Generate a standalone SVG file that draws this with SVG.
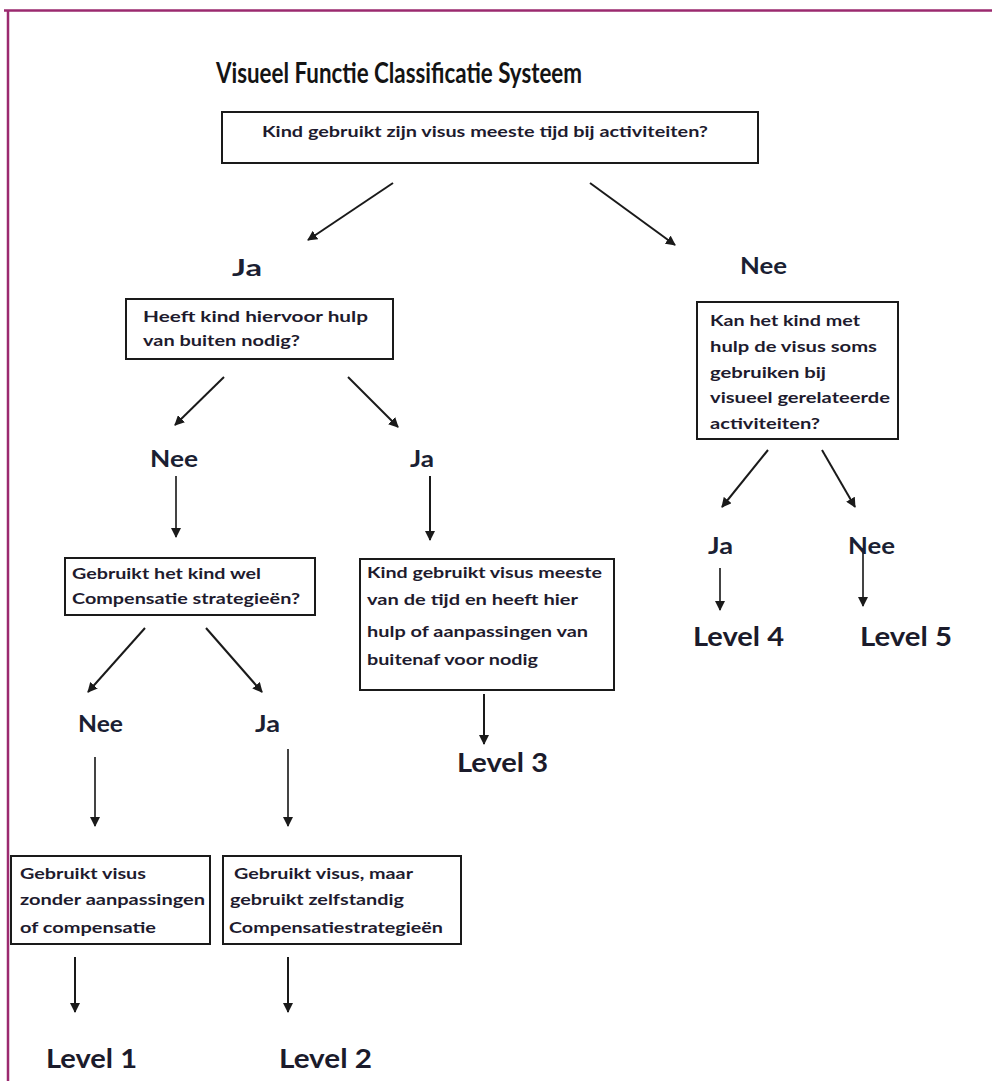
<svg xmlns="http://www.w3.org/2000/svg" width="992" height="1081" viewBox="0 0 992 1081">
<defs>
<marker id="ah" viewBox="0 0 10 10" refX="9" refY="5" markerWidth="5" markerHeight="5" orient="auto" markerUnits="strokeWidth">
<path d="M0,0 L10,5 L0,10 Z" fill="#1a1a1a"/>
</marker>
<style>
.bg{fill:#ffffff}
.frame{stroke:#9b2a6f;stroke-width:2.5;fill:none}
.box{fill:#ffffff;stroke:#1a1a1a;stroke-width:2}
.bt{font-family:Lato,"Open Sans","Liberation Sans",sans-serif;font-weight:bold;font-size:15px;fill:#1e1b2e}
.lab{font-family:Lato,"Open Sans","Liberation Sans",sans-serif;font-weight:bold;font-size:23px;fill:#1b1f33}
.lvl{font-family:Lato,"Open Sans","Liberation Sans",sans-serif;font-weight:bold;font-size:27px;fill:#1b1b2b}
.title{font-family:Lato,"Open Sans","Liberation Sans",sans-serif;font-weight:bold;font-size:28px;fill:#141414}
.con{stroke:#1a1a1a;stroke-width:2;fill:none;marker-end:url(#ah)}
.con2{stroke:#444444;stroke-width:2;fill:none;marker-end:url(#ah)}
</style>
</defs>
<rect class="bg" x="0" y="0" width="992" height="1081"/>
<path class="frame" d="M4,10.5 H992 M8,10 V1081"/>
<text class="title" x="216" y="83" textLength="366" lengthAdjust="spacingAndGlyphs">Visueel Functie Classificatie Systeem</text>

<g id="connectors">
<line class="con" x1="393" y1="183" x2="308" y2="240"/>
<line class="con" x1="590" y1="183" x2="675" y2="245"/>
<line class="con" x1="224" y1="377" x2="175" y2="425"/>
<line class="con" x1="348" y1="377" x2="398" y2="427"/>
<line class="con2" x1="176" y1="476" x2="176" y2="537"/>
<line class="con" x1="430" y1="476" x2="430" y2="540"/>
<line class="con" x1="145" y1="628" x2="88" y2="692"/>
<line class="con" x1="206" y1="628" x2="262" y2="692"/>
<line class="con2" x1="95" y1="757" x2="95" y2="826"/>
<line class="con2" x1="288" y1="749" x2="288" y2="826"/>
<line class="con" x1="484" y1="694" x2="484" y2="744"/>
<line class="con" x1="75" y1="957" x2="75" y2="1012"/>
<line class="con" x1="288" y1="957" x2="288" y2="1012"/>
<line class="con" x1="768" y1="450" x2="722" y2="507"/>
<line class="con" x1="822" y1="450" x2="855" y2="507"/>
<line class="con2" x1="720" y1="568" x2="720" y2="610"/>
<line class="con2" x1="863" y1="548" x2="863" y2="606"/>
</g>

<g id="q1">
<rect class="box" x="222" y="112" width="536" height="51"/>
<text class="bt" x="262" y="137" textLength="446" lengthAdjust="spacingAndGlyphs">Kind gebruikt zijn visus meeste tijd bij activiteiten?</text>
</g>
<g id="ja1"><text class="lab" x="232" y="276" textLength="30" lengthAdjust="spacingAndGlyphs">Ja</text></g>
<g id="nee1"><text class="lab" x="740" y="274" textLength="47" lengthAdjust="spacingAndGlyphs">Nee</text></g>

<g id="q2">
<rect class="box" x="126" y="299" width="267" height="60"/>
<text class="bt" x="143" y="322" textLength="225" lengthAdjust="spacingAndGlyphs">Heeft kind hiervoor hulp</text>
<text class="bt" x="143" y="346" textLength="157" lengthAdjust="spacingAndGlyphs">van buiten nodig?</text>
</g>
<g id="nee2"><text class="lab" x="150" y="467" textLength="48" lengthAdjust="spacingAndGlyphs">Nee</text></g>
<g id="ja2"><text class="lab" x="410" y="467" textLength="24" lengthAdjust="spacingAndGlyphs">Ja</text></g>

<g id="q3">
<rect class="box" x="65" y="558" width="250" height="57"/>
<text class="bt" x="72" y="579" textLength="189" lengthAdjust="spacingAndGlyphs">Gebruikt het kind wel</text>
<text class="bt" x="72" y="604" textLength="228" lengthAdjust="spacingAndGlyphs">Compensatie strategieën?</text>
</g>

<g id="r3box">
<rect class="box" x="360" y="559" width="254" height="131"/>
<text class="bt" x="367" y="578" textLength="235" lengthAdjust="spacingAndGlyphs">Kind gebruikt visus meeste</text>
<text class="bt" x="367" y="605" textLength="211" lengthAdjust="spacingAndGlyphs">van de tijd en heeft hier</text>
<text class="bt" x="367" y="637" textLength="221" lengthAdjust="spacingAndGlyphs">hulp of aanpassingen van</text>
<text class="bt" x="367" y="665" textLength="171" lengthAdjust="spacingAndGlyphs">buitenaf voor nodig</text>
</g>
<g id="level3"><text class="lvl" x="457" y="772" textLength="91" lengthAdjust="spacingAndGlyphs">Level 3</text></g>

<g id="nee3"><text class="lab" x="78" y="732" textLength="45" lengthAdjust="spacingAndGlyphs">Nee</text></g>
<g id="ja3"><text class="lab" x="255" y="732" textLength="25" lengthAdjust="spacingAndGlyphs">Ja</text></g>

<g id="r1box">
<rect class="box" x="11" y="856" width="199" height="88"/>
<text class="bt" x="20" y="879" textLength="126" lengthAdjust="spacingAndGlyphs">Gebruikt visus</text>
<text class="bt" x="20" y="905" textLength="185" lengthAdjust="spacingAndGlyphs">zonder aanpassingen</text>
<text class="bt" x="20" y="933" textLength="136" lengthAdjust="spacingAndGlyphs">of compensatie</text>
</g>
<g id="r2box">
<rect class="box" x="223" y="856" width="238" height="88"/>
<text class="bt" x="234" y="879" textLength="179" lengthAdjust="spacingAndGlyphs">Gebruikt visus, maar</text>
<text class="bt" x="230" y="905" textLength="174" lengthAdjust="spacingAndGlyphs">gebruikt zelfstandig</text>
<text class="bt" x="229" y="933" textLength="214" lengthAdjust="spacingAndGlyphs">Compensatiestrategieën</text>
</g>
<g id="level1"><text class="lvl" x="46" y="1068" textLength="91" lengthAdjust="spacingAndGlyphs">Level 1</text></g>
<g id="level2"><text class="lvl" x="279" y="1068" textLength="93" lengthAdjust="spacingAndGlyphs">Level 2</text></g>

<g id="q4">
<rect class="box" x="697" y="302" width="201" height="137"/>
<text class="bt" x="710" y="326" textLength="150" lengthAdjust="spacingAndGlyphs">Kan het kind met</text>
<text class="bt" x="710" y="352" textLength="167" lengthAdjust="spacingAndGlyphs">hulp de visus soms</text>
<text class="bt" x="710" y="378" textLength="116" lengthAdjust="spacingAndGlyphs">gebruiken bij</text>
<text class="bt" x="710" y="403" textLength="180" lengthAdjust="spacingAndGlyphs">visueel gerelateerde</text>
<text class="bt" x="710" y="429" textLength="110" lengthAdjust="spacingAndGlyphs">activiteiten?</text>
</g>
<g id="ja4"><text class="lab" x="708" y="554" textLength="25" lengthAdjust="spacingAndGlyphs">Ja</text></g>
<g id="nee4"><text class="lab" x="848" y="554" textLength="47" lengthAdjust="spacingAndGlyphs">Nee</text></g>
<g id="level4"><text class="lvl" x="693" y="646" textLength="91" lengthAdjust="spacingAndGlyphs">Level 4</text></g>
<g id="level5"><text class="lvl" x="860" y="646" textLength="92" lengthAdjust="spacingAndGlyphs">Level 5</text></g>
</svg>
